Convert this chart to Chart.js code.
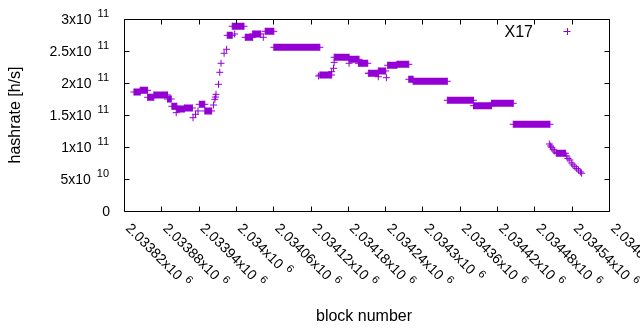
<!DOCTYPE html>
<html>
<head>
<meta charset="utf-8">
<script src="https://cdn.jsdelivr.net/npm/chart.js@4"></script>
<style>
  body { margin: 0; background: #fff; }
  #wrap { width: 640px; height: 330px; }
</style>
</head>
<body>
<div id="wrap"><canvas id="hashChart" width="640" height="330"></canvas></div>
<script>
// Axis ranges
const blockMin = 2033820;
const blockMax = 2034600;
const blockStep = 60;
const rateMin = 0;
const rateMax = 3e11;
const rateStep = 5e10;

// Tick labels (mantissa + exponent, gnuplot style)
const xTickMantissa = ['2.03382', '2.03388', '2.03394', '2.034', '2.03406', '2.03412', '2.03418',
                       '2.03424', '2.0343', '2.03436', '2.03442', '2.03448', '2.03454', '2.0346'];
const xTickExp = '6';
const yTickMantissa = ['0', '5', '1', '1.5', '2', '2.5', '3'];
const yTickExp = ['', '10', '11', '11', '11', '11', '11'];

// Runs of blocks where the hashrate stayed constant
const runStart = [2033836, 2033846, 2033858, 2033868, 2033890, 2033897, 2033905, 2033917, 2033941, 2033950,
                  2033986, 2033994, 2034015, 2034027, 2034047, 2034061, 2034135, 2034158, 2034182, 2034197,
                  2034214, 2034229, 2034244, 2034259, 2034278, 2034285, 2034340, 2034382, 2034411, 2034446,
                  2034516];
const runEnd = [2033846, 2033858, 2033868, 2033890, 2033896, 2033905, 2033917, 2033930, 2033950, 2033961,
                2033994, 2034013, 2034027, 2034040, 2034061, 2034135, 2034154, 2034182, 2034198, 2034212,
                2034229, 2034241, 2034259, 2034278, 2034285, 2034340, 2034382, 2034411, 2034446, 2034505,
                2034530];
const runRate = [185.9e9, 188.6e9, 177.7e9, 181.3e9, 175.0e9, 163.6e9, 159.4e9, 161.0e9, 166.7e9, 156.3e9,
                 274.5e9, 288.6e9, 271.4e9, 276.6e9, 280.8e9, 255.8e9, 212.5e9, 240.2e9, 237.0e9, 230.8e9,
                 215.2e9, 218.8e9, 227.7e9, 229.2e9, 205.8e9, 202.7e9, 173.0e9, 164.5e9, 168.3e9, 135.5e9,
                 90.2e9];

// Single blocks between the runs
const dotBlock = [2033904, 2033931, 2033935, 2033939, 2033964, 2033966, 2033967, 2033968, 2033972, 2033974,
                  2033976, 2033981, 2033985, 2033998, 2034044, 2034133, 2034154, 2034157, 2034158, 2034182,
                  2034213, 2034229, 2034242, 2034504, 2034506, 2034508, 2034510, 2034512, 2034515, 2034532,
                  2034534, 2034537, 2034540, 2034542, 2034545, 2034548, 2034551, 2034554, 2034556];
const dotRate = [153.6e9, 145.8e9, 151.1e9, 156.3e9, 165.6e9, 174.5e9, 178.0e9, 182.3e9, 198.0e9, 216.7e9,
                 230.8e9, 246.4e9, 252.7e9, 276.6e9, 271.4e9, 210.9e9, 217.7e9, 223.0e9, 232.3e9, 230.8e9,
                 215.2e9, 209.8e9, 208.3e9, 104.7e9, 101.6e9, 99.5e9, 96.4e9, 93.8e9, 91.0e9, 86.0e9,
                 82.0e9, 79.7e9, 75.0e9, 72.0e9, 69.2e9, 66.5e9, 64.0e9, 61.0e9, 59.0e9];

const purple = '#9400d3';
const tickFont = '14px "Liberation Sans", Arial, sans-serif';
const supFont = '11px "Liberation Sans", Arial, sans-serif';
const titleFont = '16px "Liberation Sans", Arial, sans-serif';

// Build run segments, null breaks the line between runs
const runPoints = [];
runStart.forEach((s, i) => {
    runPoints.push({ x: s, y: runRate[i] });
    runPoints.push({ x: runEnd[i], y: runRate[i] });
    runPoints.push({ x: runEnd[i], y: null });
});
const dotPoints = dotBlock.map((b, i) => ({ x: b, y: dotRate[i] }));

// Frame, inward ticks, enhanced-text labels and key
const gnuplotFrame = {
    id: 'gnuplotFrame',
    afterDraw(chart) {
        const { ctx, chartArea: a, scales: { x, y } } = chart;
        const L = Math.round(a.left) + 0.5, R = Math.round(a.right) + 0.5;
        const T = Math.round(a.top) + 0.5, B = Math.round(a.bottom) + 0.5;
        const tl = 5;
        ctx.save();
        ctx.strokeStyle = '#000';
        ctx.lineWidth = 1;
        ctx.beginPath();
        ctx.rect(L, T, R - L, B - T);
        y.ticks.forEach(t => {
            const py = Math.round(y.getPixelForValue(t.value)) + 0.5;
            ctx.moveTo(L, py); ctx.lineTo(L + tl, py);
            ctx.moveTo(R, py); ctx.lineTo(R - tl, py);
        });
        x.ticks.forEach(t => {
            const px = Math.round(x.getPixelForValue(t.value)) + 0.5;
            ctx.moveTo(px, B); ctx.lineTo(px, B - tl);
            ctx.moveTo(px, T); ctx.lineTo(px, T + tl);
        });
        ctx.stroke();

        ctx.fillStyle = '#000';
        // y tick labels
        y.ticks.forEach((t, i) => {
            const py = y.getPixelForValue(t.value);
            const exp = yTickExp[i];
            ctx.textAlign = 'right';
            ctx.textBaseline = 'alphabetic';
            if (exp) {
                ctx.font = supFont;
                const sw = ctx.measureText(exp).width;
                ctx.fillText(exp, 109, py - 2);
                ctx.font = tickFont;
                ctx.fillText(yTickMantissa[i] + 'x10', 109 - sw - 6, py + 5);
            } else {
                ctx.font = tickFont;
                ctx.fillText(yTickMantissa[i], 110, py + 5);
            }
        });
        // x tick labels, rotated
        x.ticks.forEach((t, i) => {
            const px = x.getPixelForValue(t.value);
            ctx.save();
            ctx.translate(px + 1, 229);
            ctx.rotate(Math.PI / 4);
            ctx.textAlign = 'left';
            ctx.textBaseline = 'alphabetic';
            ctx.font = tickFont;
            const txt = xTickMantissa[i] + 'x10';
            ctx.fillText(txt, 0, 0);
            const w = ctx.measureText(txt).width;
            ctx.font = supFont;
            ctx.fillText(xTickExp, w + 5, -6);
            ctx.restore();
        });
        // axis titles
        ctx.font = titleFont;
        ctx.textAlign = 'center';
        ctx.fillText('block number', 364, 321);
        ctx.save();
        ctx.translate(16, 115);
        ctx.rotate(-Math.PI / 2);
        ctx.textBaseline = 'middle';
        ctx.fillText('hashrate [h/s]', 0, 0);
        ctx.restore();
        // key
        ctx.textAlign = 'right';
        ctx.textBaseline = 'alphabetic';
        ctx.fillText(chart.data.datasets[0].label, 533, 37);
        ctx.strokeStyle = purple;
        ctx.beginPath();
        ctx.moveTo(563.5, 31.5); ctx.lineTo(570.5, 31.5);
        ctx.moveTo(567.5, 28); ctx.lineTo(567.5, 35);
        ctx.stroke();
        ctx.restore();
    }
};

const pointStyle = {
    pointStyle: 'cross',
    pointRadius: 3.5,
    pointHoverRadius: 3.5,
    pointBorderWidth: 1,
    pointBorderColor: purple,
    pointBackgroundColor: purple
};

new Chart(document.getElementById('hashChart'), {
    type: 'scatter',
    data: {
        datasets: [
            Object.assign({
                label: 'X17',
                data: runPoints,
                showLine: true,
                spanGaps: false,
                borderColor: purple,
                borderWidth: 7,
                borderCapStyle: 'butt'
            }, pointStyle),
            Object.assign({
                label: 'X17 single',
                data: dotPoints,
                showLine: false
            }, pointStyle)
        ]
    },
    options: {
        responsive: false,
        animation: false,
        events: [],
        layout: { padding: { left: 0, top: 19, right: 31, bottom: 0 } },
        plugins: { legend: { display: false }, tooltip: { enabled: false } },
        scales: {
            x: {
                type: 'linear',
                min: blockMin,
                max: blockMax,
                ticks: { stepSize: blockStep, display: false },
                grid: { display: false },
                border: { display: false },
                afterFit: s => { s.height = 119; }
            },
            y: {
                type: 'linear',
                min: rateMin,
                max: rateMax,
                ticks: { stepSize: rateStep, display: false },
                grid: { display: false },
                border: { display: false },
                afterFit: s => { s.width = 124; }
            }
        }
    },
    plugins: [gnuplotFrame]
});
</script>
</body>
</html>
